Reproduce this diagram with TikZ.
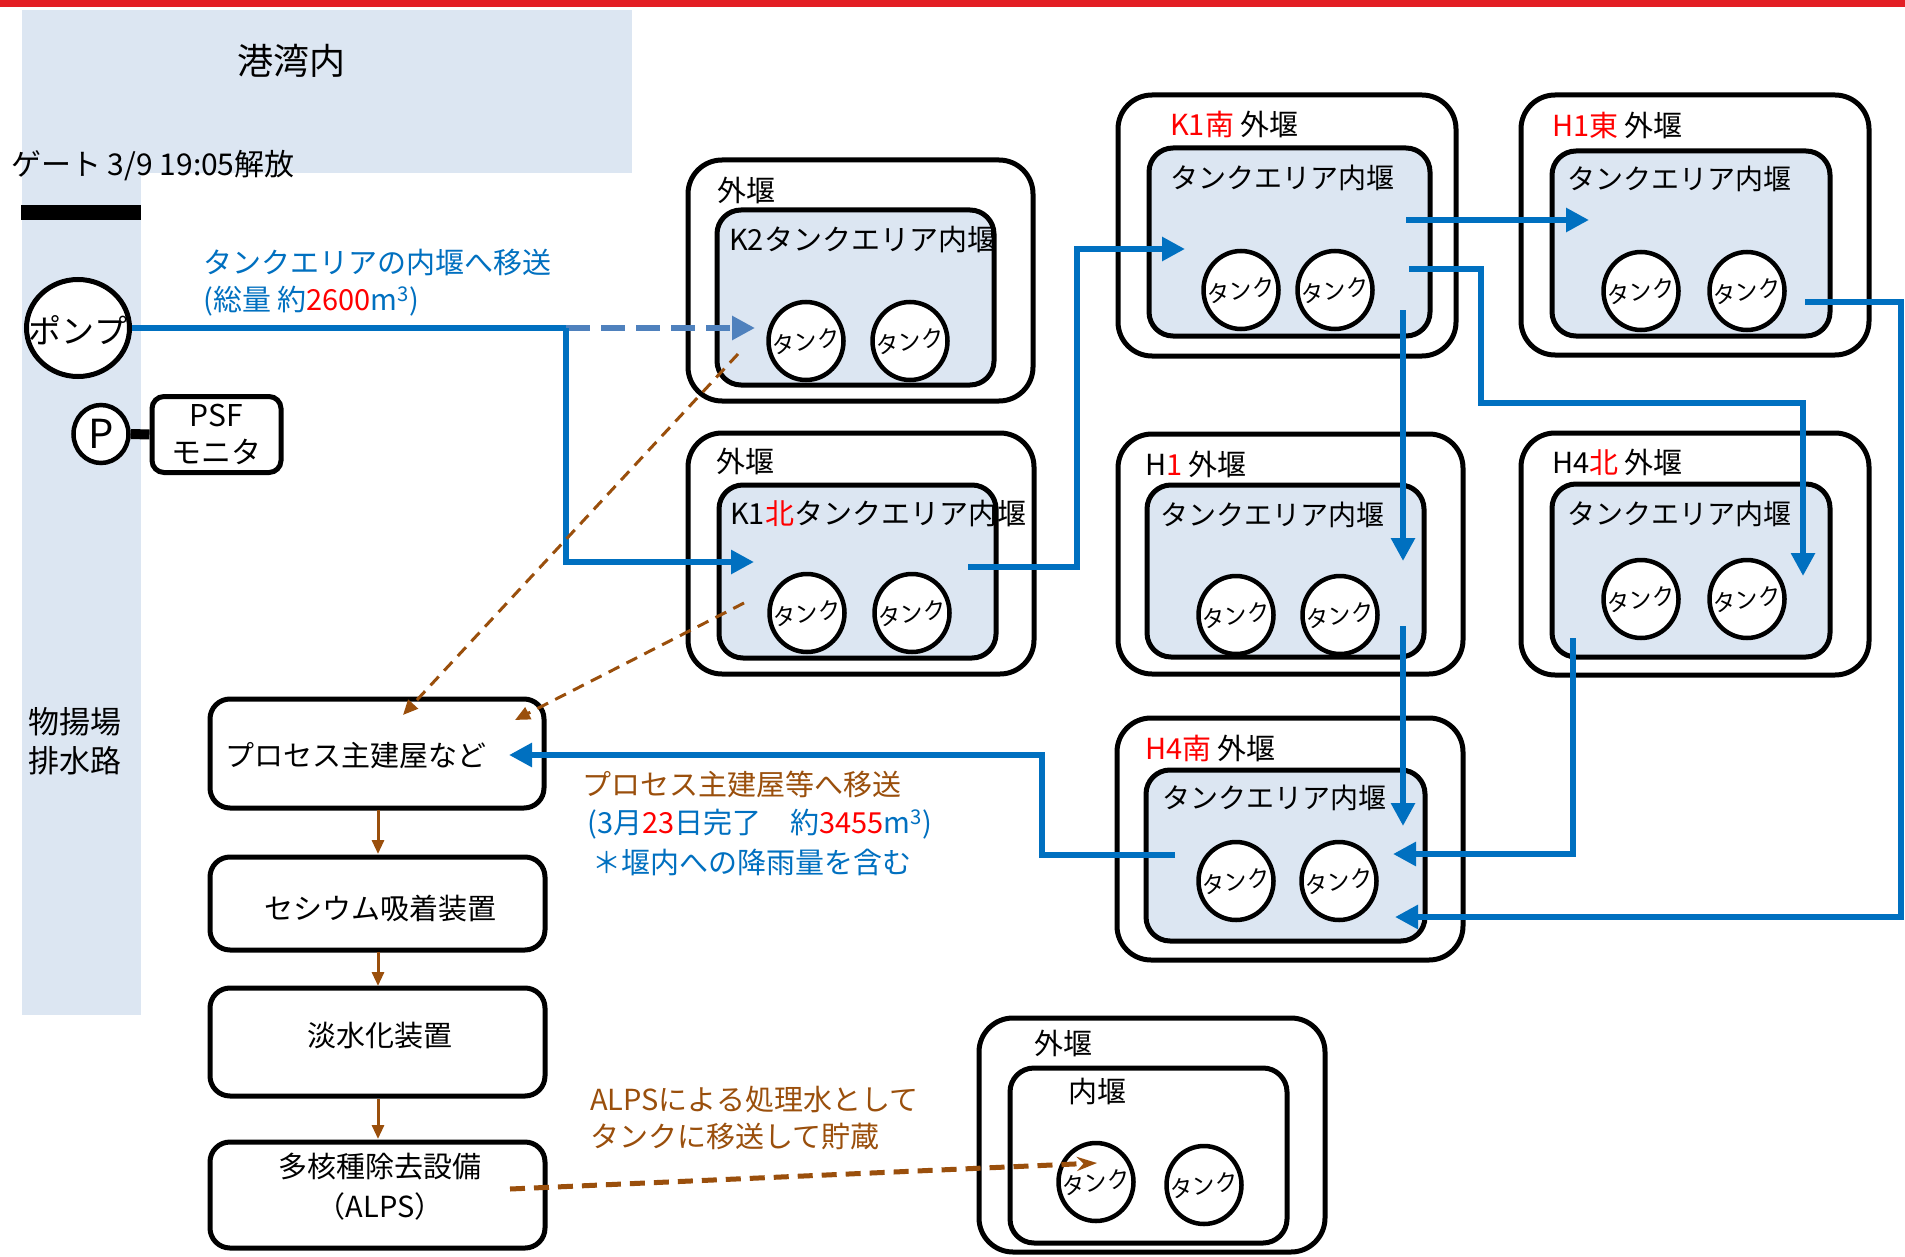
\documentclass[tikz,border=0pt]{standalone}
\usepackage{fontspec}
\setmainfont{Noto Sans CJK JP}
\usetikzlibrary{arrows.meta,shapes.geometric}
\definecolor{lb}{HTML}{DCE6F2}
\definecolor{bluec}{HTML}{0070C0}
\definecolor{dblue}{HTML}{4F81BD}
\definecolor{brn}{HTML}{9A4F0C}
\definecolor{redc}{HTML}{FF0000}
\definecolor{topred}{HTML}{E31E24}
\begin{document}
\begin{tikzpicture}[x=1pt,y=-1pt,
 obox/.style={draw=black, line width=5pt, rounded corners=34pt, fill=white, inner sep=0pt},
 ibox/.style={draw=black, line width=5pt, rounded corners=24pt, fill=lb, inner sep=0pt},
 pbox/.style={draw=black, line width=5pt, rounded corners=20pt, fill=white, inner sep=0pt},
 tank/.style={ellipse, draw=black, line width=4.5pt, fill=white, inner sep=0pt, minimum width=75pt, minimum height=78pt},
 tanktxt/.style={font=\fontsize{23}{25}\selectfont, inner sep=0pt, rotate=8},
 lbl/.style={font=\fontsize{29}{35}\selectfont, inner sep=0pt, anchor=west},
 bl/.style={draw=bluec, line width=6.5pt, -{Triangle[length=23pt,width=23pt]}},
 blplain/.style={draw=bluec, line width=6.5pt},
 dbl/.style={draw=dblue, line width=6.5pt, dash pattern=on 24pt off 11pt, -{Triangle[length=23pt,width=23pt]}},
 brarr/.style={draw=brn, line width=3pt, -{Triangle[length=14pt,width=12pt]}},
 brdash/.style={draw=brn, line width=3pt, dash pattern=on 12pt off 8pt, -{Triangle[length=15pt,width=13pt]}},
 brdash2/.style={draw=brn, line width=5pt, dash pattern=on 15pt off 9pt, -{Stealth[length=20pt,width=14pt]}}
]
\useasboundingbox (0,0) rectangle (1905,1257);
\fill[white] (0,0) rectangle (1905,1257);
\fill[topred] (0,0) rectangle (1905,7);
\fill[lb] (22,10) rectangle (632,173);
\fill[lb] (22,173) rectangle (141,1015);

\node[lbl, anchor=center, font=\fontsize{36}{40}\selectfont] (harbor) at (291,61) {港湾内};
\node[lbl, font=\fontsize{30}{35}\selectfont] (gate) at (11,166) {ゲート 3/9 19:05解放};
\fill[black] (21,205) rectangle (141,220);

\node[ellipse, draw=black, line width=5pt, fill=white, minimum width=103pt, minimum height=97pt, inner sep=0pt] (pump) at (78,328) {};
\node[inner sep=0pt, font=\fontsize{33}{36}\selectfont] (pumpt) at (78,330) {ポンプ};
\node[ellipse, draw=black, line width=4.5pt, fill=white, minimum width=55pt, minimum height=58pt, inner sep=0pt] (pcirc) at (101,434) {};
\node[inner sep=0pt, font=\fontsize{40}{44}\selectfont] (pcirct) at (101,434) {P};
\node[pbox, rounded corners=12pt, minimum width=129pt, minimum height=76pt, align=center, font=\fontsize{30}{37}\selectfont] (psf) at (216.5,434.5) {PSF\\モニタ};
\draw[line width=10pt] (pcirc.east) -- (psf.west);

\node[lbl, anchor=center, align=center, font=\fontsize{31}{39}\selectfont] (drain) at (75,741) {物揚場\\排水路};

\node[lbl, text=bluec] (bt1) at (203,263) {タンクエリアの内堰へ移送};
\node[lbl, text=bluec] (bt2) at (203,301) {(総量 約\textcolor{redc}{2600}m\textsuperscript{3})};

% outer boxes
\node[obox, minimum width=345pt, minimum height=241pt] (k2o) at (860.5,280.5) {};
\node[obox, minimum width=346pt, minimum height=241pt] (k1no) at (861,553.5) {};
\node[obox, minimum width=338pt, minimum height=261pt] (k1so) at (1287,225.5) {};
\node[obox, minimum width=348pt, minimum height=260pt] (h1eo) at (1695,225) {};
\node[obox, minimum width=345pt, minimum height=240pt] (h1o) at (1290.5,554) {};
\node[obox, minimum width=348pt, minimum height=242pt] (h4no) at (1695,554) {};
\node[obox, minimum width=346pt, minimum height=242pt] (h4so) at (1290,839) {};
\node[obox, minimum width=346pt, minimum height=234pt] (boto) at (1152,1135) {};

% inner boxes
\node[ibox, minimum width=277pt, minimum height=175pt] (k2i) at (855.5,297.5) {};
\node[ibox, minimum width=277pt, minimum height=173pt] (k1ni) at (857.5,571.5) {};
\node[ibox, minimum width=281pt, minimum height=188pt] (k1si) at (1289.5,242) {};
\node[ibox, minimum width=278pt, minimum height=185pt] (h1ei) at (1691,243.5) {};
\node[ibox, minimum width=277pt, minimum height=172pt] (h1i) at (1285.5,571) {};
\node[ibox, minimum width=278pt, minimum height=173pt] (h4ni) at (1691,570.5) {};
\node[ibox, minimum width=279pt, minimum height=171pt] (h4si) at (1285.5,855.5) {};
\node[ibox, fill=white, minimum width=277pt, minimum height=175pt] (boti) at (1148.5,1155.5) {};

% box labels
\node[lbl] (k2ol) at (717,190) {外堰};
\node[lbl] (k1nol) at (716,461) {外堰};
\node[lbl] (k1sol) at (1170,124) {\textcolor{redc}{K1南} 外堰};
\node[lbl] (h1eol) at (1552,125) {\textcolor{redc}{H1東} 外堰};
\node[lbl] (h1ol) at (1145,464) {H\textcolor{redc}{1} 外堰};
\node[lbl] (h4nol) at (1552,462) {H4\textcolor{redc}{北} 外堰};
\node[lbl] (h4sol) at (1145,748) {\textcolor{redc}{H4南} 外堰};
\node[lbl] (botol) at (1034,1043) {外堰};

\node[lbl] (k2il) at (729,240) {K2タンクエリア内堰};
\node[lbl] (k1nil) at (730,514) {K1\textcolor{redc}{北}タンクエリア内堰};
\node[lbl, font=\fontsize{28}{34}\selectfont] (k1sil) at (1170,178) {タンクエリア内堰};
\node[lbl, font=\fontsize{28}{34}\selectfont] (h1eil) at (1567,179) {タンクエリア内堰};
\node[lbl, font=\fontsize{28}{34}\selectfont] (h1il) at (1160,515) {タンクエリア内堰};
\node[lbl, font=\fontsize{28}{34}\selectfont] (h4nil) at (1567,514) {タンクエリア内堰};
\node[lbl, font=\fontsize{28}{34}\selectfont] (h4sil) at (1162,798) {タンクエリア内堰};
\node[lbl] (botil) at (1068,1091) {内堰};

% tanks
\foreach \n/\x/\y in {k2a/806/341, k2b/910/341, k1na/807/613, k1nb/912/613,
  k1sa/1241/290, k1sb/1335/290, h1ea/1641/291, h1eb/1747/291,
  h1a/1236/615, h1b/1340/615, h4na/1641/599, h4nb/1747/599,
  h4sa/1236/881, h4sb/1339/881, bota/1096/1182, botb/1204/1185}{
  \node[tank] (\n) at (\x,\y) {};
  \node[tanktxt] (\n t) at (\n) {タンク};
}

% process boxes
\node[pbox, minimum width=334pt, minimum height=109pt] (proc) at (377,753.5) {};
\node[lbl] (proct) at (225,756) {プロセス主建屋など};
\node[pbox, minimum width=335pt, minimum height=93pt] (cs) at (377.5,903.5) {};
\node[lbl, anchor=center] (cst) at (380,908) {セシウム吸着装置};
\node[pbox, minimum width=335pt, minimum height=108pt] (desal) at (377.5,1042) {};
\node[lbl, anchor=center] (desalt) at (380,1036) {淡水化装置};
\node[pbox, minimum width=335pt, minimum height=106pt] (alps) at (377.5,1195) {};
\node[lbl, anchor=center] (alpst1) at (380,1167) {多核種除去設備};
\node[lbl, anchor=center] (alpst2) at (380,1206) {（ALPS）};

% brown and blue notes
\node[lbl, text=brn] (brt1) at (582,784) {プロセス主建屋等へ移送};
\node[lbl, text=bluec] (brt2) at (587,824) {(3月\textcolor{redc}{23}日完了　約\textcolor{redc}{3455}m\textsuperscript{3})};
\node[lbl, text=bluec] (brt3) at (592,862) {＊堰内への降雨量を含む};
\node[lbl, text=brn] (brt4) at (590,1100) {ALPSによる処理水として};
\node[lbl, text=brn] (brt5) at (590,1137) {タンクに移送して貯蔵};

% blue connectors
\coordinate (j1) at (566,328);
\coordinate (k2in) at (755,328);
\coordinate (k1nin) at (754,562);
\draw[blplain] (pump.east) -- (j1);
\draw[dbl] (j1) -- (k2in);
\draw[bl] (j1) -- (566,562) -- (k1nin);

\coordinate (k1nout) at (968,567);
\coordinate (k1sin) at (1185,249);
\draw[bl] (k1nout) -- (1077,567) -- (1077,249) -- (k1sin);

\coordinate (k1sout1) at (1406,220);
\coordinate (h1ein) at (1589,220);
\draw[bl] (k1sout1) -- (h1ein);

\coordinate (k1sout2) at (1409,269);
\coordinate (h4nin) at (1803,576);
\draw[bl] (k1sout2) -- (1481,269) -- (1481,403) -- (1803,403) -- (h4nin);

\coordinate (k1sout3) at (1403,310);
\coordinate (h1in) at (1403,561);
\draw[bl] (k1sout3) -- (h1in);

\coordinate (h1out) at (1403,626);
\coordinate (h4sin1) at (1403,826);
\draw[bl] (h1out) -- (h4sin1);

\coordinate (h4nout) at (1573,638);
\coordinate (h4sin2) at (1393,854);
\draw[bl] (h4nout) -- (1573,854) -- (h4sin2);

\coordinate (h1eout) at (1805,302);
\coordinate (h4sin3) at (1395,917);
\draw[bl] (h1eout) -- (1901,302) -- (1901,917) -- (h4sin3);

\coordinate (h4sout) at (1175,855);
\coordinate (procin) at (509,755);
\draw[bl] (h4sout) -- (1042,855) -- (1042,755) -- (procin);

% brown connectors
\coordinate (k2drain) at (738,354);
\coordinate (k1ndrain) at (744,603);
\draw[brdash] (k2drain) -- (403,715);
\draw[brdash] (k1ndrain) -- (515,720);
\coordinate (procout) at (378,810);
\coordinate (csin) at (378,854);
\draw[brarr] (procout) -- (csin);
\coordinate (csout) at (378,952);
\coordinate (desalin) at (378,986);
\draw[brarr] (csout) -- (desalin);
\coordinate (desalout) at (378,1099);
\coordinate (alpsin) at (378,1139);
\draw[brarr] (desalout) -- (alpsin);
\coordinate (alpsout) at (510,1189);
\coordinate (botin) at (1097,1163);
\draw[brdash2] (alpsout) -- (botin);
\end{tikzpicture}
\end{document}
